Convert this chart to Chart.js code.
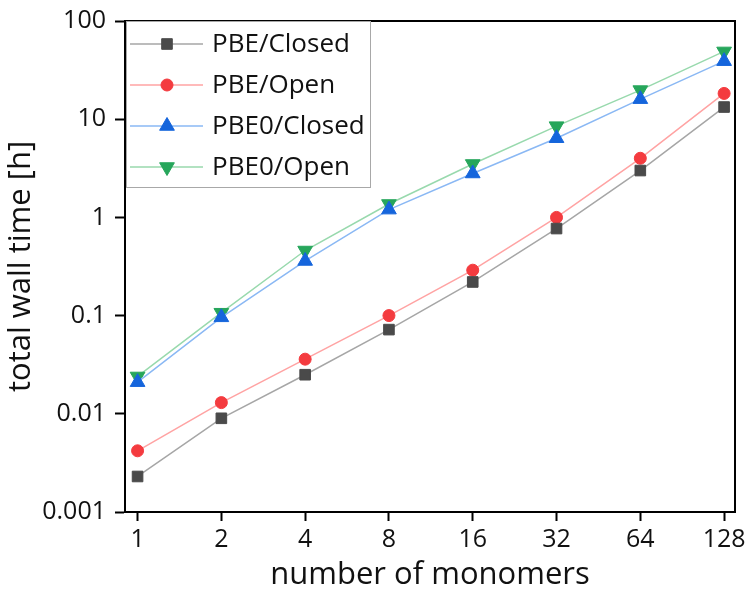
<!DOCTYPE html>
<html>
<head>
<meta charset="utf-8">
<script src="https://cdn.jsdelivr.net/npm/chart.js@4/dist/chart.umd.min.js"></script>
<style>
  html, body { margin: 0; padding: 0; background: #fff; }
  #wrap { width: 750px; height: 594px; }
</style>
</head>
<body>
<div id="wrap"><canvas id="timeChart" width="750" height="594"></canvas></div>
<script>
// monomer counts (x categories, evenly spaced)
const monomers = ['1', '2', '4', '8', '16', '32', '64', '128'];
const yTicks = [0.001, 0.01, 0.1, 1, 10, 100];

// total wall time [h]
const pbeClosed = [0.0023, 0.009, 0.025, 0.072, 0.22, 0.77, 3.0, 13.3];
const pbeOpen = [0.0042, 0.013, 0.036, 0.1, 0.29, 1.0, 4.0, 18.3];
const pbe0Closed = [0.021, 0.096, 0.36, 1.2, 2.8, 6.4, 16, 39];
const pbe0Open = [0.024, 0.107, 0.46, 1.37, 3.5, 8.5, 19.8, 49];

const FONT = "'Open Sans', sans-serif";

function pts(arr) {
    return arr.map((v, i) => ({ x: i, y: v }));
}

function series(label, values, line, marker, style, radius, rotation) {
    return {
        label: label,
        data: pts(values),
        borderColor: line,
        borderWidth: 1.5,
        pointStyle: style,
        pointRadius: radius,
        pointRotation: rotation,
        pointBackgroundColor: marker,
        pointBorderColor: marker,
        pointBorderWidth: 1,
        fill: false,
        tension: 0
    };
}

// legend box drawn inside the plot, top-left
const insideLegend = {
    id: 'insideLegend',
    afterDraw(chart) {
        const ctx = chart.ctx;
        const area = chart.chartArea;
        ctx.save();
        ctx.strokeStyle = '#a8a8a8';
        ctx.lineWidth = 1;
        ctx.fillStyle = '#fff';
        const bx = area.left + 1.5, by = area.top + 0.5;
        ctx.fillRect(bx, by, 244, 166);
        ctx.strokeRect(bx, by, 244, 166);
        chart.data.datasets.forEach((ds, i) => {
            const y = area.top + 23 + i * 41;
            ctx.strokeStyle = ds.borderColor;
            ctx.lineWidth = 1.5;
            ctx.beginPath();
            ctx.moveTo(area.left + 5, y);
            ctx.lineTo(area.left + 78, y);
            ctx.stroke();
            ctx.fillStyle = ds.pointBackgroundColor;
            ctx.strokeStyle = ds.pointBorderColor;
            ctx.lineWidth = 1;
            Chart.helpers.drawPoint(ctx, {
                pointStyle: ds.pointStyle,
                radius: ds.pointRadius,
                rotation: ds.pointRotation,
                borderWidth: 1
            }, area.left + 42, y);
            ctx.fillStyle = '#111';
            ctx.font = '26px ' + FONT;
            ctx.textBaseline = 'middle';
            ctx.textAlign = 'left';
            ctx.fillText(ds.label, area.left + 87, y + 1);
        });
        ctx.restore();
    }
};

// closes the frame on top and right
const frame = {
    id: 'frame',
    afterDatasetsDraw(chart) {
        const a = chart.chartArea;
        const ctx = chart.ctx;
        ctx.save();
        ctx.strokeStyle = '#000';
        ctx.lineWidth = 2;
        ctx.beginPath();
        ctx.moveTo(a.left, a.top);
        ctx.lineTo(a.right, a.top);
        ctx.lineTo(a.right, a.bottom);
        ctx.stroke();
        ctx.restore();
    }
};

const ctx = document.getElementById('timeChart').getContext('2d');
const timeChart = new Chart(ctx, {
    type: 'line',
    data: {
        datasets: [
            series('PBE/Closed', pbeClosed, '#a6a6a6', '#4a4a4a', 'rect', 7.5, 0),
            series('PBE/Open', pbeOpen, '#ffa3a3', '#f43b3f', 'circle', 6, 0),
            series('PBE0/Closed', pbe0Closed, '#8ab8f4', '#1565dc', 'triangle', 8.5, 0),
            series('PBE0/Open', pbe0Open, '#98d9ad', '#26a65b', 'triangle', 8.5, 180)
        ]
    },
    options: {
        responsive: false,
        animation: false,
        layout: { padding: { top: 21, right: 15, left: 0, bottom: 0 } },
        plugins: {
            legend: { display: false },
            tooltip: { enabled: false }
        },
        scales: {
            x: {
                type: 'linear',
                min: -0.15,
                max: 7.13,
                afterBuildTicks: (scale) => {
                    scale.ticks = monomers.map((m, i) => ({ value: i }));
                },
                afterFit: (scale) => {
                    scale.height = 82;
                    scale.paddingLeft = 0;
                    scale.paddingRight = 0;
                },
                ticks: {
                    callback: (v) => monomers[v],
                    color: '#111',
                    font: { family: FONT, size: 25 },
                    padding: 4,
                    maxRotation: 0,
                    autoSkip: false
                },
                grid: {
                    drawOnChartArea: false,
                    tickLength: 9,
                    tickColor: '#000',
                    tickWidth: 2
                },
                border: { color: '#000', width: 2 },
                title: {
                    display: true,
                    text: 'number of monomers',
                    color: '#111',
                    font: { family: FONT, size: 31 },
                    padding: { top: 0, bottom: 0 }
                }
            },
            y: {
                type: 'logarithmic',
                min: 0.001,
                max: 100,
                afterBuildTicks: (scale) => {
                    scale.ticks = yTicks.map(v => ({ value: v }));
                },
                afterFit: (scale) => {
                    scale.width = 125;
                    scale.paddingTop = 0;
                    scale.paddingBottom = 0;
                },
                ticks: {
                    callback: (v) => String(v),
                    color: '#111',
                    font: { family: FONT, size: 25 },
                    padding: 9,
                    autoSkip: false
                },
                grid: {
                    drawOnChartArea: false,
                    tickLength: 10,
                    tickColor: '#000',
                    tickWidth: 2
                },
                border: { color: '#000', width: 2 },
                title: {
                    display: true,
                    text: 'total wall time [h]',
                    color: '#111',
                    font: { family: FONT, size: 31 },
                    padding: { top: 3, bottom: 0 }
                }
            }
        }
    },
    plugins: [frame, insideLegend]
});
</script>
</body>
</html>
